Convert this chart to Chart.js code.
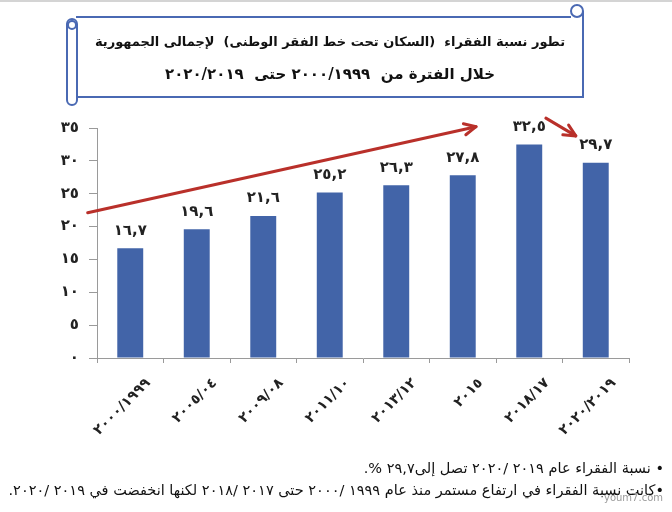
<!DOCTYPE html>
<html lang="ar">
<head>
<meta charset="utf-8">
<script src="https://cdn.jsdelivr.net/npm/chart.js@4"></script>
<style>
  html, body { margin: 0; padding: 0; background: #fff; }
  #page { position: relative; width: 672px; height: 512px; overflow: hidden;
          border-top: 2px solid #d4d4d4; box-sizing: border-box; }
  #chartBox { position: absolute; left: 0; top: 0; width: 672px; height: 512px; }
  #frame { position: absolute; left: 0; top: 0; }
  .title { position: absolute; left: 80px; width: 500px; text-align: center;
           font-family: "DejaVu Sans", sans-serif; font-weight: bold;
           color: #111; white-space: nowrap; }
  .note { position: absolute; right: 8px; direction: rtl; text-align: right;
          font-family: "DejaVu Sans", sans-serif; font-size: 14.5px; color: #111; white-space: nowrap; }
  #mark { position: absolute; left: 604px; top: 490px; font-family: "DejaVu Sans", sans-serif;
          font-size: 10px; color: #9a9a9a; }
</style>
</head>
<body>
<div id="page">
  <div id="chartBox"><canvas id="povertyChart" width="672" height="512"></canvas></div>

  <svg id="frame" width="672" height="120">
    <g fill="none" stroke="#4a69b3" stroke-width="2">
      <path d="M76 15 H571 M583 9 V95 H76" />
      <circle cx="577" cy="9" r="6" />
      <rect x="67" y="17" width="10" height="86" rx="5" />
      <circle cx="72" cy="23" r="4" />
    </g>
  </svg>
  <div class="title" style="top:32px; font-size:13px" dir="rtl">تطور نسبة الفقراء&nbsp; (السكان تحت خط الفقر الوطنى)&nbsp; لإجمالى الجمهورية</div>
  <div class="title" style="top:63px; font-size:15px" dir="rtl">خلال الفترة من&nbsp; ١٩٩٩&#x200F;/٢٠٠٠ حتى&nbsp; ٢٠١٩&#x200F;/٢٠٢٠</div>

  <div class="note" style="top:458px">• نسبة الفقراء عام ٢٠١٩ /٢٠٢٠ تصل إلى٢٩,٧ %.</div>
  <div class="note" style="top:480px">•كانت نسبة الفقراء في ارتفاع مستمر منذ عام ١٩٩٩ /٢٠٠٠ حتى ٢٠١٧ /٢٠١٨ لكنها انخفضت في ٢٠١٩ /٢٠٢٠.</div>
  <div id="mark">youm7.com</div>
</div>

<script>
// الفترات (مكتوبة بالترتيب المرئي)
const periods = ['٢٠٠٠/١٩٩٩', '٢٠٠٥/٠٤', '٢٠٠٩/٠٨', '٢٠١١/١٠', '٢٠١٣/١٢', '٢٠١٥', '٢٠١٨/١٧', '٢٠٢٠/٢٠١٩'];
// نسبة الفقراء %
const povertyRate = [16.7, 19.6, 21.6, 25.2, 26.3, 27.8, 32.5, 29.7];
const yTicks = [0, 5, 10, 15, 20, 25, 30, 35];

// arrows in data units (category index, value)
const trendArrows = [
  { from: [-0.64, 22.1], to: [5.2, 35.2] },
  { from: [6.25, 36.5], to: [6.7, 33.8] }
];

const arDigits = '٠١٢٣٤٥٦٧٨٩';
const toAr = v => String(v).replace(/[0-9]/g, d => arDigits[d]).replace('.', ',');

const valueLabels = {
  id: 'valueLabels',
  afterDatasetsDraw(chart) {
    const ctx = chart.ctx;
    const meta = chart.getDatasetMeta(0);
    ctx.save();
    ctx.font = 'bold 15px "DejaVu Sans"';
    ctx.fillStyle = '#222';
    ctx.textAlign = 'center';
    ctx.textBaseline = 'bottom';
    meta.data.forEach((bar, i) => {
      ctx.fillText(toAr(povertyRate[i]), bar.x, bar.y - 10);
    });
    ctx.restore();
  }
};

const arrows = {
  id: 'arrows',
  afterDatasetsDraw(chart) {
    const { ctx, scales: { x, y } } = chart;
    ctx.save();
    ctx.strokeStyle = '#b9302a';
    ctx.lineWidth = 3;
    ctx.lineCap = 'round';
    ctx.lineJoin = 'round';
    trendArrows.forEach(a => {
      const x1 = x.getPixelForValue(a.from[0]), y1 = y.getPixelForValue(a.from[1]);
      const x2 = x.getPixelForValue(a.to[0]),   y2 = y.getPixelForValue(a.to[1]);
      const ang = Math.atan2(y2 - y1, x2 - x1);
      ctx.beginPath();
      ctx.moveTo(x1, y1);
      ctx.lineTo(x2, y2);
      ctx.stroke();
      ctx.beginPath();
      ctx.moveTo(x2 - 13 * Math.cos(ang - 0.45), y2 - 13 * Math.sin(ang - 0.45));
      ctx.lineTo(x2, y2);
      ctx.lineTo(x2 - 13 * Math.cos(ang + 0.45), y2 - 13 * Math.sin(ang + 0.45));
      ctx.stroke();
    });
    ctx.restore();
  }
};

new Chart(document.getElementById('povertyChart'), {
  type: 'bar',
  data: {
    labels: periods,
    datasets: [{
      data: povertyRate,
      backgroundColor: '#4264a8',
      categoryPercentage: 1,
      barPercentage: 0.39
    }]
  },
  options: {
    responsive: false,
    animation: false,
    layout: { padding: { left: 0, top: 126, right: 43, bottom: 0 } },
    plugins: { legend: { display: false }, tooltip: { enabled: false } },
    scales: {
      x: {
        afterFit: s => { s.height = 156; },
        grid: { drawOnChartArea: false, offset: true, tickLength: 5, color: '#9a9a9a' },
        border: { color: '#9a9a9a' },
        ticks: {
          minRotation: 45, maxRotation: 45, padding: 12, labelOffset: 18,
          color: '#222', font: { family: 'DejaVu Sans', size: 14, weight: 'bold' }
        }
      },
      y: {
        min: 0, max: 35,
        afterFit: s => { s.width = 97; },
        afterBuildTicks: s => { s.ticks = yTicks.map(v => ({ value: v })); },
        grid: { drawOnChartArea: false, tickLength: 8, color: '#9a9a9a' },
        border: { color: '#9a9a9a' },
        ticks: {
          padding: 10, color: '#222',
          font: { family: 'DejaVu Sans', size: 15, weight: 'bold' },
          callback: v => toAr(v)
        }
      }
    }
  },
  plugins: [valueLabels, arrows]
});
</script>
</body>
</html>
